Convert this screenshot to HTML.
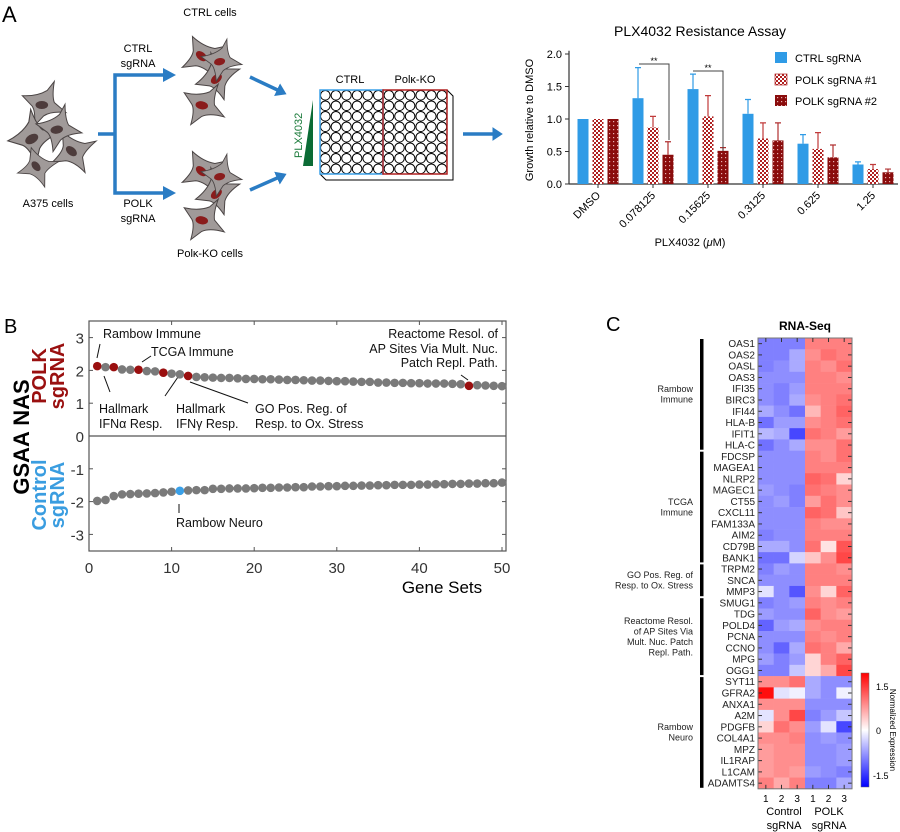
<!DOCTYPE html>
<html><head><meta charset="utf-8"><style>
body{margin:0;background:#fff;}
svg{display:block;font-family:"Liberation Sans",Arial,sans-serif;}
</style></head><body>
<svg id="fig" width="900" height="832" viewBox="0 0 900 832" xmlns="http://www.w3.org/2000/svg">
<defs>
<pattern id="pchk" width="4" height="4" patternUnits="userSpaceOnUse"><rect width="4" height="4" fill="#fff"/><rect width="2" height="2" fill="#b02020"/><rect x="2" y="2" width="2" height="2" fill="#b02020"/></pattern>
<pattern id="pdot" width="4" height="4" patternUnits="userSpaceOnUse"><rect width="4" height="4" fill="#8a0c0c"/><rect x="1" y="1" width="1.2" height="1.2" fill="#e8b0b0"/></pattern>
<marker id="ah" markerWidth="4" markerHeight="4" refX="2.2" refY="2" orient="auto" markerUnits="strokeWidth"><path d="M0,0 L3,2 L0,4 z" fill="#2a7cc4"/></marker>
</defs>

<!-- Panel A schematic -->
<g id="schem">
<text x="2" y="22" font-size="22">A</text>
<text x="210" y="16" font-size="11" text-anchor="middle">CTRL cells</text>
<text x="138" y="52" font-size="11" text-anchor="middle">CTRL</text>
<text x="138" y="67" font-size="11" text-anchor="middle">sgRNA</text>
<text x="138" y="207" font-size="11" text-anchor="middle">POLK</text>
<text x="138" y="222" font-size="11" text-anchor="middle">sgRNA</text>
<text x="48" y="207" font-size="11" text-anchor="middle">A375 cells</text>
<text x="210" y="257" font-size="11" text-anchor="middle">Polκ-KO cells</text>
<path d="M98,134 H115 V75 H170 M115,134 V193 H170" fill="none" stroke="#2a7cc4" stroke-width="3.5"/>
<path d="M163,68 L176,75 L163,82 z M163,186 L176,193 L163,200 z" fill="#2a7cc4"/>
<line x1="250" y1="77" x2="284" y2="93" stroke="#2a7cc4" stroke-width="3.5" marker-end="url(#ah)"/>
<line x1="250" y1="190" x2="284" y2="175" stroke="#2a7cc4" stroke-width="3.5" marker-end="url(#ah)"/>
<line x1="463" y1="134" x2="500" y2="134" stroke="#2a7cc4" stroke-width="3.5" marker-end="url(#ah)"/>
<text transform="translate(302,158) rotate(-90)" font-size="11" fill="#1a7a3a">PLX4032</text>
<path d="M303,166 L313,166 L313,100 z" fill="#0b6b35"/>
<text x="350" y="83" font-size="11" text-anchor="middle">CTRL</text>
<text x="415" y="83" font-size="11" text-anchor="middle">Polκ-KO</text>
<path d="M320,174 L326,180 L453,180 L453,96 L447,90" fill="#fff" stroke="#000" stroke-width="1"/>
<g id="wells"></g>
<rect x="320" y="90" width="63" height="84" fill="none" stroke="#3aa0e8" stroke-width="1.5"/>
<rect x="383" y="90" width="64" height="84" fill="none" stroke="#b02020" stroke-width="1.5"/>
<g id="cells"></g>
</g>

<!-- Bar chart -->
<g id="bar">
<text x="700" y="36" font-size="14" text-anchor="middle">PLX4032 Resistance Assay</text>
<text transform="translate(533,120) rotate(-90)" font-size="11" text-anchor="middle">Growth relative to DMSO</text>
<text x="690" y="246" font-size="11" text-anchor="middle">PLX4032 (<tspan font-style="italic">μ</tspan>M)</text>
<g id="barg"></g>
<rect x="775" y="52" width="12" height="11" fill="#2f9be6"/>
<text x="795" y="62" font-size="11">CTRL sgRNA</text>
<rect x="775" y="74" width="12" height="11" fill="url(#pchk)" stroke="#b02020" stroke-width="0.7"/>
<text x="795" y="84" font-size="11">POLK  sgRNA #1</text>
<rect x="775" y="95" width="12" height="11" fill="url(#pdot)"/>
<text x="795" y="105" font-size="11">POLK sgRNA #2</text>
<path d="M639,64 H669 V140 M693,71 H723 V151" fill="none" stroke="#444" stroke-width="1"/>
<text x="654" y="64" font-size="9" text-anchor="middle">**</text>
<text x="708" y="71" font-size="9" text-anchor="middle">**</text>
</g>

<!-- Panel B -->
<g id="gsea">
<text x="4" y="333" font-size="20">B</text>
<text transform="translate(29,437) rotate(-90)" font-size="22" font-weight="bold" text-anchor="middle">GSAA NAS</text>
<text transform="translate(46,376) rotate(-90)" font-size="20" font-weight="bold" fill="#9a1010" text-anchor="middle">POLK</text>
<text transform="translate(64,376) rotate(-90)" font-size="20" font-weight="bold" fill="#9a1010" text-anchor="middle">sgRNA</text>
<text transform="translate(46,495) rotate(-90)" font-size="20" font-weight="bold" fill="#3a9de0" text-anchor="middle">Control</text>
<text transform="translate(64,495) rotate(-90)" font-size="20" font-weight="bold" fill="#3a9de0" text-anchor="middle">sgRNA</text>
<text x="442" y="593" font-size="17" text-anchor="middle">Gene Sets</text>
<g id="gseag"></g>
</g>

<!-- Panel C -->
<g id="heat">
<text x="606" y="331" font-size="20">C</text>
<text x="805" y="330" font-size="12" font-weight="bold" text-anchor="middle">RNA-Seq</text>
<g id="heatg"></g>
<text x="784" y="815" font-size="11" text-anchor="middle">Control</text>
<text x="784" y="829" font-size="11" text-anchor="middle">sgRNA</text>
<text x="829" y="815" font-size="11" text-anchor="middle">POLK</text>
<text x="829" y="829" font-size="11" text-anchor="middle">sgRNA</text>
<defs><linearGradient id="cb" x1="0" y1="1" x2="0" y2="0"><stop offset="0" stop-color="#0000ff"/><stop offset="0.5" stop-color="#ffffff"/><stop offset="1" stop-color="#ff0000"/></linearGradient></defs>
<rect x="861" y="673" width="8" height="114" fill="url(#cb)" stroke="#666" stroke-width="0.5"/>
<text x="876" y="690" font-size="9">1.5</text>
<text x="876" y="734" font-size="9">0</text>
<text x="873" y="779" font-size="9">-1.5</text>
<text transform="translate(890,730) rotate(90)" font-size="8" text-anchor="middle">Normalized Expression</text>
</g>

<script>
// ---------- Bar chart data ----------
const barCategories = ["DMSO","0.078125","0.15625","0.3125","0.625","1.25"];
const ctrlValues = [1.0,1.32,1.46,1.08,0.62,0.30];
const ctrlErrTop = [1.0,1.79,1.69,1.30,0.76,0.34];
const polk1Values = [1.0,0.87,1.04,0.70,0.54,0.23];
const polk1ErrTop = [1.0,1.04,1.36,0.94,0.79,0.30];
const polk2Values = [1.0,0.45,0.51,0.67,0.41,0.18];
const polk2ErrTop = [1.0,0.65,0.56,0.94,0.60,0.23];
const barYTicks = [0,0.5,1.0,1.5,2.0];

// ---------- GSEA data ----------
const posScores = [2.13,2.1,2.1,2.03,2.02,2.02,1.98,1.97,1.93,1.9,1.88,1.83,1.8,1.79,1.78,1.77,1.77,1.76,1.74,1.74,1.73,1.73,1.72,1.71,1.71,1.7,1.69,1.69,1.68,1.67,1.67,1.66,1.65,1.65,1.63,1.63,1.62,1.62,1.61,1.61,1.6,1.6,1.6,1.59,1.58,1.53,1.55,1.54,1.53,1.52];
const negScores = [-1.98,-1.95,-1.83,-1.78,-1.77,-1.76,-1.75,-1.74,-1.72,-1.7,-1.67,-1.66,-1.65,-1.65,-1.61,-1.61,-1.6,-1.6,-1.6,-1.59,-1.58,-1.58,-1.57,-1.57,-1.56,-1.56,-1.54,-1.54,-1.53,-1.53,-1.52,-1.52,-1.51,-1.51,-1.5,-1.5,-1.49,-1.49,-1.49,-1.48,-1.48,-1.47,-1.47,-1.46,-1.46,-1.45,-1.45,-1.44,-1.44,-1.42];
const posHighlight = [1,3,6,9,12,46];
const negHighlight = [11];
const gseaXTicks = [0,10,20,30,40,50];
const gseaYTicks = [3,2,1,0,-1,-2,-3];

// ---------- Heatmap data ----------
const genes = ["OAS1","OAS2","OASL","OAS3","IFI35","BIRC3","IFI44","HLA-B","IFIT1","HLA-C","FDCSP","MAGEA1","NLRP2","MAGEC1","CT55","CXCL11","FAM133A","AIM2","CD79B","BANK1","TRPM2","SNCA","MMP3","SMUG1","TDG","POLD4","PCNA","CCNO","MPG","OGG1","SYT11","GFRA2","ANXA1","A2M","PDGFB","COL4A1","MPZ","IL1RAP","L1CAM","ADAMTS4"];
const heatValues = [
[-0.9,-0.9,-0.9,0.9,0.9,0.9],[-0.9,-0.9,-0.6,0.8,1.0,0.9],[-0.9,-0.8,-0.6,0.9,0.8,1.0],[-0.8,-0.8,-0.8,0.9,0.9,0.8],
[-0.8,-0.9,-0.7,0.9,0.9,0.9],[-0.8,-0.9,-0.6,0.8,0.9,1.0],[-0.6,-0.8,-1.0,0.5,0.9,1.1],[-1.0,-0.7,-0.7,0.8,0.9,1.0],
[-0.5,-0.6,-1.3,1.0,0.9,0.7],[-1.0,-0.8,-0.6,0.8,0.8,1.0],[-0.8,-0.8,-0.8,0.9,0.8,1.0],[-0.8,-0.8,-0.8,0.9,0.9,0.9],
[-0.8,-0.8,-0.8,1.1,1.0,0.3],[-0.7,-0.8,-0.9,1.0,0.9,0.8],[-0.8,-0.7,-0.9,0.7,1.0,0.8],[-0.8,-0.8,-0.8,1.1,1.0,0.4],
[-0.8,-0.8,-0.8,0.9,0.8,0.8],[-0.9,-0.8,-0.8,0.9,0.9,0.9],[-0.6,-0.6,-0.8,1.0,0.2,1.2],[-1.0,-1.0,-0.3,0.4,0.8,1.3],
[-0.9,-0.7,-0.8,0.9,0.9,0.8],[-0.8,-0.8,-0.8,0.9,0.9,0.9],[-0.2,-0.8,-1.2,0.8,0.3,1.1],[-0.9,-0.8,-0.7,0.9,0.8,0.9],
[-0.7,-0.8,-0.8,1.1,0.8,0.7],[-1.1,-0.7,-0.6,0.8,0.9,0.9],[-0.8,-0.8,-0.8,0.9,0.8,0.9],[-0.8,-1.1,-0.6,1.0,0.9,0.6],
[-0.7,-0.9,-0.7,0.3,0.9,1.1],[-0.9,-0.9,-0.4,0.3,0.6,1.3],[0.8,0.8,1.0,-0.6,-0.8,-0.8],[1.7,-0.2,-0.1,-0.6,-0.8,-0.1],
[0.8,0.8,0.8,-0.8,-0.8,-0.8],[-0.2,0.8,1.3,-0.9,-0.7,-0.4],[0.3,1.0,0.8,-0.7,-0.2,-1.3],[0.8,0.8,0.9,-0.8,-0.7,-0.8],
[0.7,0.8,0.8,-0.8,-0.8,-0.7],[0.7,0.8,0.8,-0.8,-0.8,-0.7],[0.7,0.8,0.7,-0.7,-0.8,-0.9],[0.9,0.6,0.9,-0.9,-0.9,-0.6]];
const groupNames = [["Rambow","Immune"],["TCGA","Immune"],["GO Pos. Reg. of","Resp. to Ox. Stress"],["Reactome Resol.","of AP Sites Via","Mult. Nuc. Patch","Repl. Path."],["Rambow","Neuro"]];
const groupStart = [0,10,20,23,30];
const groupEnd = [9,19,22,29,39];
const colLabels = ["1","2","3","1","2","3"];

const NS="http://www.w3.org/2000/svg";
function mk(tag, parent, attrs, txt){const e=document.createElementNS(NS,tag);for(const k in attrs)e.setAttribute(k,attrs[k]);if(txt!==undefined)e.textContent=txt;parent.appendChild(e);return e;}

// ----- schematic wells & cells -----
const wg=document.getElementById('wells');
for(let c=0;c<12;c++)for(let r=0;r<8;r++){
  const w=mk('circle',wg,{cx:325.3+c*10.6,cy:95.3+r*10.5,r:4.8,fill:'#fff',stroke:'#000','stroke-width':1});
  
  
}
const cg=document.getElementById('cells');
function cell(cx,cy,rot,s,nuc){
  const g=mk('g',cg,{transform:`translate(${cx},${cy}) rotate(${rot}) scale(${s})`});
  
  
  mk('path',g,{d:'M-22,-3 Q-6,-8 2,-18 L6,-30 Q9,-14 14,-8 L30,-2 Q14,2 8,10 L2,24 Q-2,8 -8,4 Z',fill:'#a09a99',stroke:'#4a4444','stroke-width':1.1});
  mk('ellipse',g,{cx:2,cy:0,rx:7,ry:4.5,fill:nuc,transform:'rotate(-20)'});
}
[[40,105,20,0.9],[30,140,-10,1],[70,150,60,0.9],[55,130,10,0.9],[35,165,70,0.8]].forEach(p=>cell(p[0],p[1],p[2],p[3],'#4d3c3c'));
[[200,55,60,0.9],[215,80,-20,0.9],[200,105,30,0.9],[218,62,10,0.8]].forEach(p=>cell(p[0],p[1],p[2],p[3],'#8a1c1c'));
[[200,170,60,0.9],[215,195,-20,0.9],[200,220,30,0.9],[218,177,10,0.8]].forEach(p=>cell(p[0],p[1],p[2],p[3],'#8a1c1c'));

// ----- bar chart -----
const bg=document.getElementById('barg');
const bx0=598, bdx=55, by0=184, bpu=65;
const yB=v=>by0-v*bpu, xB=i=>bx0+i*bdx;
mk('line',bg,{x1:569,y1:by0,x2:898,y2:by0,stroke:'#333','stroke-width':1.2});
mk('line',bg,{x1:569,y1:yB(2.05),x2:569,y2:by0,stroke:'#333','stroke-width':1.2});
barYTicks.forEach(t=>{
  mk('line',bg,{x1:565,y1:yB(t),x2:569,y2:yB(t),stroke:'#333'});
  const l=mk('text',bg,{x:562,y:yB(t)+4,'font-size':11,'text-anchor':'end'},t.toFixed(1));
  
  
});
barCategories.forEach((c,i)=>{
  mk('line',bg,{x1:xB(i),y1:by0,x2:xB(i),y2:by0+4,stroke:'#333'});
  const l=mk('text',bg,{transform:`translate(${xB(i)+3},${by0+12}) rotate(-45)`,'font-size':11,'text-anchor':'end'},c);
  
  
});
const series=[[ctrlValues,ctrlErrTop,'#2f9be6','#2f9be6',-15,'bar-ctrl'],[polk1Values,polk1ErrTop,'url(#pchk)','#c03a3a',0,'bar-polk1'],[polk2Values,polk2ErrTop,'url(#pdot)','#b03030',15,'bar-polk2']];
series.forEach(s=>{
  s[0].forEach((v,i)=>{
    const x=xB(i)+s[4];
    if(s[1][i]>v){const e=mk('path',bg,{d:`M${x},${yB(v)} V${yB(s[1][i])} M${x-3},${yB(s[1][i])} H${x+3}`,stroke:s[3],'stroke-width':1.2,fill:'none'});
      
      }
    const r=mk('rect',bg,{x:x-5.5,y:yB(v),width:11,height:v*bpu,fill:s[2]});
    
    
  });
});

// ----- GSEA -----
const gg=document.getElementById('gseag');
const gx=v=>89+v*8.26, gy=v=>436-v*32.8;
mk('rect',gg,{x:89,y:321,width:417,height:230,fill:'none',stroke:'#555','stroke-width':1.2});
mk('line',gg,{x1:89,y1:gy(0),x2:506,y2:gy(0),stroke:'#555','stroke-width':1.2});
gseaXTicks.forEach(t=>{
  mk('line',gg,{x1:gx(t),y1:551,x2:gx(t),y2:547,stroke:'#555'});
  mk('line',gg,{x1:gx(t),y1:321,x2:gx(t),y2:325,stroke:'#555'});
  const l=mk('text',gg,{x:gx(t),y:573,'font-size':15,'text-anchor':'middle',fill:'#333'},String(t));
  
  
});
gseaYTicks.forEach(t=>{
  mk('line',gg,{x1:89,y1:gy(t),x2:93,y2:gy(t),stroke:'#555'});
  mk('line',gg,{x1:506,y1:gy(t),x2:502,y2:gy(t),stroke:'#555'});
  const l=mk('text',gg,{x:84,y:gy(t)+6,'font-size':15,'text-anchor':'end',fill:'#333'},String(t));
  
  
});
[[100,344,97,358],[151,356,142,362],[104,376,110,392],[178,377,165,396],[190,382,248,403],[461,375,468,380],[179,504,179,513]].forEach(a=>mk('line',gg,{x1:a[0],y1:a[1],x2:a[2],y2:a[3],stroke:'#111','stroke-width':1}));
posScores.forEach((v,i)=>{
  const hi=posHighlight.includes(i+1);
  const d=mk('circle',gg,{cx:gx(i+1),cy:gy(v),r:4.3,fill:hi?'#9a0f0f':'#7a7a7a'});
  
  
});
negScores.forEach((v,i)=>{
  const hi=negHighlight.includes(i+1);
  const d=mk('circle',gg,{cx:gx(i+1),cy:gy(v),r:4.3,fill:hi?'#3aa0e8':'#7a7a7a'});
  
  
});
const ann=[["Rambow Immune",103,338,'start'],["TCGA Immune",151,356,'start'],["Hallmark",99,413,'start'],["IFNα Resp.",99,428,'start'],["Hallmark",176,413,'start'],["IFNγ Resp.",176,428,'start'],["GO Pos. Reg. of",255,413,'start'],["Resp. to Ox. Stress",255,428,'start'],["Reactome Resol. of",498,338,'end'],["AP Sites Via Mult. Nuc.",498,353,'end'],["Patch Repl. Path.",498,367,'end'],["Rambow Neuro",176,527,'start']];
ann.forEach(a=>{
  const t=mk('text',gg,{x:a[1],y:a[2],'font-size':12.5,'text-anchor':a[3],fill:'#111'},a[0]);
  
  
});

// ----- heatmap -----
const hg=document.getElementById('heatg');
const hx0=758, cw=15.67, hy0=338, rh=11.27;
function col(v){const t=Math.max(-1,Math.min(1,v/1.8));const k=Math.round(255*(1-Math.abs(t)));return t>=0?`rgb(255,${k},${k})`:`rgb(${k},${k},255)`;}
heatValues.forEach((row,r)=>{
  row.forEach((v,c)=>{
    const e=mk('rect',hg,{x:hx0+c*cw,y:hy0+r*rh,width:cw+0.3,height:rh+0.3,fill:col(v)});
    
    
  });
  const yc=hy0+r*rh+rh/2;
  mk('line',hg,{x1:hx0,y1:yc,x2:hx0+4,y2:yc,stroke:'#333'});
  mk('line',hg,{x1:hx0+6*cw,y1:yc,x2:hx0+6*cw-4,y2:yc,stroke:'#333'});
  const l=mk('text',hg,{x:hx0-3,y:yc+3.5,'font-size':10,'text-anchor':'end',fill:'#222'},genes[r]);
  
  
});
const hh=heatValues.length*rh;
mk('rect',hg,{x:hx0,y:hy0,width:6*cw,height:hh,fill:'none',stroke:'#777','stroke-width':1});
colLabels.forEach((c,i)=>{
  const xc=hx0+i*cw+cw/2;
  mk('line',hg,{x1:xc,y1:hy0,x2:xc,y2:hy0+4,stroke:'#333'});
  mk('line',hg,{x1:xc,y1:hy0+hh,x2:xc,y2:hy0+hh-4,stroke:'#333'});
  const l=mk('text',hg,{x:xc,y:hy0+hh+13,'font-size':10,'text-anchor':'middle'},c);
  
  
});
groupNames.forEach((g,i)=>{
  const y1=hy0+groupStart[i]*rh+1, y2=hy0+(groupEnd[i]+1)*rh-1;
  const b=mk('rect',hg,{x:700,y:y1,width:3.5,height:y2-y1,fill:'#000'});
  
  
  const mid=(y1+y2)/2, n=g.length;
  g.forEach((line,j)=>{
    const t=mk('text',hg,{x:693,y:mid+(j-(n-1)/2)*10.5+3,'font-size':9,'text-anchor':'end',fill:'#222'},line);
    
    
  });
});
</script>
</svg>
</body></html>
